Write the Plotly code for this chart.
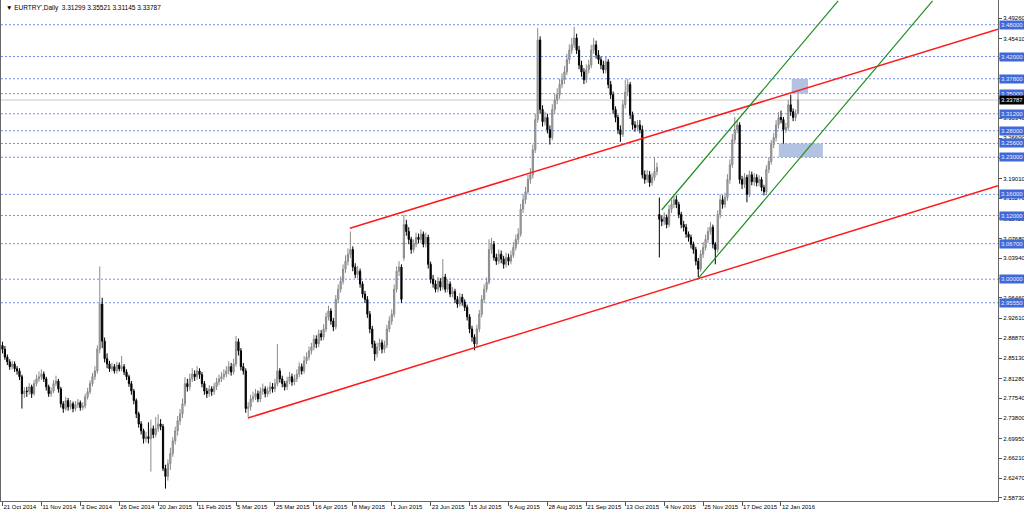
import plotly.graph_objects as go

# ---------------- data ----------------
chart_title = "EURTRY',Daily  3.31299 3.35521 3.31145 3.33787"

date_labels = ["21 Oct 2014", "11 Nov 2014", "3 Dec 2014", "26 Dec 2014", "20 Jan 2015",
               "11 Feb 2015", "5 Mar 2015", "25 Mar 2015", "16 Apr 2015", "8 May 2015",
               "1 Jun 2015", "23 Jun 2015", "15 Jul 2015", "6 Aug 2015", "28 Aug 2015",
               "21 Sep 2015", "13 Oct 2015", "4 Nov 2015", "25 Nov 2015", "17 Dec 2015",
               "12 Jan 2016"]
bars_per_label = 16

opens = [
    2.875, 2.868, 2.853, 2.844, 2.835, 2.840, 2.831, 2.827, 2.816, 2.784,
    2.789, 2.788, 2.797, 2.784, 2.803, 2.812, 2.816, 2.821, 2.812, 2.797,
    2.784, 2.789, 2.803, 2.808, 2.793, 2.765, 2.756, 2.771, 2.759, 2.765,
    2.756, 2.763, 2.767, 2.758, 2.761, 2.778, 2.788, 2.803, 2.816, 2.827,
    2.868, 2.953, 2.883, 2.850, 2.840, 2.831, 2.835, 2.827, 2.838, 2.831,
    2.835, 2.825, 2.816, 2.803, 2.789, 2.771, 2.746, 2.727, 2.714, 2.699,
    2.703, 2.699, 2.718, 2.707, 2.718, 2.727, 2.722, 2.643, 2.628, 2.652,
    2.671, 2.695, 2.714, 2.733, 2.746, 2.765, 2.803, 2.797, 2.812, 2.821,
    2.816, 2.827, 2.820, 2.803, 2.789, 2.784, 2.793, 2.788, 2.797, 2.806,
    2.812, 2.816, 2.821, 2.827, 2.835, 2.825, 2.840, 2.882, 2.865, 2.835,
    2.827, 2.756, 2.759, 2.774, 2.778, 2.784, 2.774, 2.788, 2.793, 2.784,
    2.789, 2.797, 2.793, 2.803, 2.827, 2.812, 2.803, 2.797, 2.808, 2.816,
    2.806, 2.812, 2.821, 2.835, 2.827, 2.846, 2.853, 2.865, 2.872, 2.887,
    2.878, 2.897, 2.891, 2.906, 2.929, 2.940, 2.921, 2.910, 2.962, 2.981,
    2.996, 3.019, 3.034, 3.047, 3.056, 3.023, 3.009, 3.015, 2.991, 2.972,
    2.962, 2.934, 2.906, 2.878, 2.859, 2.872, 2.880, 2.868, 2.876, 2.906,
    2.921, 2.934, 2.981, 3.015, 3.023, 3.040, 3.103, 3.090, 3.075, 3.056,
    3.066, 3.079, 3.075, 3.085, 3.066, 3.079, 3.028, 3.000, 2.991, 2.981,
    2.996, 2.985, 3.004, 2.981, 2.991, 2.972, 2.977, 2.962, 2.953, 2.966,
    2.957, 2.947, 2.929, 2.906, 2.891, 2.878, 2.906, 2.934, 2.962, 2.981,
    2.994, 3.056, 3.066, 3.041, 3.034, 3.047, 3.038, 3.028, 3.041, 3.034,
    3.045, 3.060, 3.075, 3.085, 3.132, 3.150, 3.165, 3.188, 3.197, 3.244,
    3.301, 3.451, 3.320, 3.297, 3.305, 3.282, 3.267, 3.320, 3.338, 3.348,
    3.367, 3.376, 3.391, 3.414, 3.432, 3.442, 3.455, 3.432, 3.404, 3.391,
    3.376, 3.395, 3.404, 3.432, 3.442, 3.423, 3.414, 3.404, 3.395, 3.410,
    3.367, 3.348, 3.320, 3.305, 3.282, 3.273, 3.329, 3.353, 3.367, 3.310,
    3.291, 3.286, 3.291, 3.282, 3.197, 3.188, 3.197, 3.182, 3.192, 3.203,
    3.122, 3.113, 3.109, 3.117, 3.103, 3.132, 3.141, 3.150, 3.141, 3.122,
    3.103, 3.098, 3.085, 3.079, 3.066, 3.056, 3.034, 3.019, 3.047, 3.060,
    3.075, 3.090, 3.098, 3.066, 3.056, 3.122, 3.150, 3.141, 3.154, 3.188,
    3.216, 3.263, 3.282, 3.291, 3.188, 3.179, 3.192, 3.160, 3.197, 3.184,
    3.192, 3.182, 3.188, 3.173, 3.165, 3.207, 3.222, 3.254, 3.267, 3.291,
    3.305, 3.301, 3.282, 3.286, 3.329, 3.316, 3.305, 3.31299,
]

highs = [
    2.882, 2.874, 2.858, 2.849, 2.846, 2.845, 2.836, 2.832, 2.820, 2.796,
    2.797, 2.804, 2.801, 2.810, 2.820, 2.826, 2.830, 2.826, 2.816, 2.801,
    2.796, 2.810, 2.818, 2.812, 2.797, 2.770, 2.778, 2.776, 2.772, 2.769,
    2.770, 2.774, 2.771, 2.768, 2.784, 2.795, 2.809, 2.823, 2.836, 2.875,
    3.024, 2.965, 2.890, 2.860, 2.846, 2.842, 2.840, 2.844, 2.843, 2.855,
    2.840, 2.830, 2.820, 2.808, 2.793, 2.775, 2.750, 2.732, 2.718, 2.712,
    2.730, 2.735, 2.724, 2.740, 2.745, 2.736, 2.727, 2.650, 2.660, 2.682,
    2.702, 2.722, 2.742, 2.755, 2.775, 2.815, 2.812, 2.822, 2.832, 2.828,
    2.836, 2.832, 2.825, 2.808, 2.795, 2.800, 2.798, 2.804, 2.814, 2.820,
    2.825, 2.830, 2.836, 2.845, 2.842, 2.850, 2.893, 2.888, 2.870, 2.842,
    2.832, 2.768, 2.782, 2.788, 2.793, 2.790, 2.796, 2.803, 2.798, 2.797,
    2.806, 2.804, 2.812, 2.878, 2.832, 2.818, 2.808, 2.816, 2.825, 2.822,
    2.820, 2.830, 2.843, 2.841, 2.855, 2.862, 2.873, 2.880, 2.895, 2.894,
    2.905, 2.904, 2.915, 2.937, 2.950, 2.945, 2.927, 2.970, 2.990, 3.005,
    3.028, 3.045, 3.058, 3.090, 3.062, 3.030, 3.025, 3.020, 2.996, 2.978,
    2.968, 2.940, 2.912, 2.884, 2.880, 2.888, 2.886, 2.884, 2.914, 2.930,
    2.943, 2.990, 3.024, 3.034, 3.028, 3.121, 3.112, 3.098, 3.080, 3.075,
    3.088, 3.086, 3.094, 3.090, 3.088, 3.084, 3.033, 3.008, 2.998, 3.004,
    3.002, 3.038, 3.010, 3.000, 2.996, 2.985, 2.982, 2.968, 2.974, 2.972,
    2.962, 2.952, 2.934, 2.912, 2.896, 2.914, 2.942, 2.970, 2.990, 3.003,
    3.075, 3.078, 3.072, 3.048, 3.056, 3.054, 3.044, 3.050, 3.048, 3.054,
    3.070, 3.084, 3.096, 3.142, 3.160, 3.174, 3.197, 3.210, 3.254, 3.312,
    3.474, 3.458, 3.328, 3.316, 3.312, 3.290, 3.330, 3.350, 3.360, 3.378,
    3.388, 3.402, 3.425, 3.443, 3.455, 3.476, 3.463, 3.440, 3.412, 3.398,
    3.405, 3.414, 3.442, 3.455, 3.450, 3.432, 3.420, 3.412, 3.420, 3.415,
    3.374, 3.354, 3.326, 3.310, 3.290, 3.338, 3.376, 3.378, 3.372, 3.316,
    3.298, 3.300, 3.300, 3.290, 3.205, 3.206, 3.204, 3.200, 3.229, 3.220,
    3.154, 3.120, 3.126, 3.122, 3.140, 3.150, 3.156, 3.158, 3.146, 3.127,
    3.110, 3.104, 3.090, 3.084, 3.071, 3.061, 3.040, 3.055, 3.070, 3.084,
    3.098, 3.108, 3.103, 3.070, 3.130, 3.160, 3.158, 3.163, 3.198, 3.226,
    3.274, 3.306, 3.300, 3.296, 3.195, 3.200, 3.197, 3.205, 3.203, 3.200,
    3.198, 3.196, 3.193, 3.178, 3.215, 3.230, 3.262, 3.276, 3.300, 3.315,
    3.318, 3.306, 3.295, 3.338, 3.348, 3.322, 3.320, 3.35521,
]

lows = [
    2.860, 2.848, 2.838, 2.829, 2.830, 2.825, 2.820, 2.810, 2.756, 2.776,
    2.778, 2.782, 2.776, 2.780, 2.798, 2.806, 2.810, 2.806, 2.790, 2.778,
    2.778, 2.785, 2.798, 2.786, 2.758, 2.748, 2.752, 2.752, 2.754, 2.749,
    2.751, 2.757, 2.752, 2.753, 2.756, 2.773, 2.783, 2.798, 2.810, 2.822,
    2.860, 2.870, 2.843, 2.832, 2.825, 2.826, 2.822, 2.822, 2.826, 2.826,
    2.819, 2.810, 2.797, 2.782, 2.764, 2.738, 2.720, 2.707, 2.690, 2.692,
    2.690, 2.637, 2.700, 2.702, 2.712, 2.715, 2.638, 2.605, 2.620, 2.640,
    2.665, 2.688, 2.705, 2.725, 2.738, 2.760, 2.788, 2.790, 2.806, 2.808,
    2.810, 2.812, 2.796, 2.782, 2.776, 2.778, 2.780, 2.782, 2.791, 2.800,
    2.806, 2.810, 2.815, 2.820, 2.818, 2.820, 2.835, 2.856, 2.828, 2.820,
    2.748, 2.740, 2.752, 2.768, 2.772, 2.768, 2.768, 2.782, 2.777, 2.778,
    2.783, 2.786, 2.787, 2.798, 2.805, 2.796, 2.790, 2.791, 2.802, 2.799,
    2.800, 2.806, 2.815, 2.820, 2.822, 2.840, 2.847, 2.858, 2.866, 2.870,
    2.872, 2.884, 2.885, 2.900, 2.922, 2.914, 2.902, 2.905, 2.955, 2.975,
    2.990, 3.012, 3.026, 3.040, 3.015, 3.002, 3.002, 2.984, 2.965, 2.955,
    2.927, 2.898, 2.870, 2.846, 2.852, 2.865, 2.860, 2.861, 2.870, 2.900,
    2.914, 2.928, 2.975, 3.006, 2.955, 3.035, 3.082, 3.066, 3.048, 3.050,
    3.060, 3.068, 3.068, 3.060, 3.060, 3.020, 2.992, 2.984, 2.975, 2.975,
    2.978, 2.980, 2.975, 2.975, 2.966, 2.966, 2.955, 2.946, 2.948, 2.950,
    2.940, 2.922, 2.898, 2.882, 2.866, 2.872, 2.900, 2.928, 2.955, 2.975,
    2.990, 3.048, 3.035, 3.027, 3.028, 3.030, 3.020, 3.022, 3.026, 3.028,
    3.040, 3.054, 3.068, 3.080, 3.125, 3.142, 3.160, 3.180, 3.190, 3.238,
    3.295, 3.312, 3.288, 3.290, 3.275, 3.254, 3.262, 3.312, 3.330, 3.340,
    3.360, 3.368, 3.385, 3.406, 3.425, 3.436, 3.425, 3.396, 3.382, 3.368,
    3.370, 3.388, 3.398, 3.425, 3.416, 3.406, 3.396, 3.388, 3.388, 3.360,
    3.340, 3.312, 3.296, 3.274, 3.259, 3.268, 3.322, 3.345, 3.302, 3.282,
    3.278, 3.280, 3.275, 3.190, 3.180, 3.182, 3.174, 3.176, 3.186, 3.196,
    3.041, 3.100, 3.102, 3.096, 3.098, 3.125, 3.134, 3.134, 3.115, 3.096,
    3.090, 3.078, 3.071, 3.058, 3.048, 3.026, 3.004, 3.014, 3.040, 3.054,
    3.068, 3.084, 3.058, 3.028, 3.050, 3.115, 3.133, 3.135, 3.148, 3.180,
    3.210, 3.256, 3.275, 3.180, 3.170, 3.172, 3.145, 3.155, 3.177, 3.176,
    3.175, 3.175, 3.166, 3.158, 3.160, 3.200, 3.216, 3.247, 3.260, 3.284,
    3.294, 3.254, 3.276, 3.280, 3.308, 3.298, 3.298, 3.31145,
]

closes = [
    2.868, 2.853, 2.844, 2.835, 2.840, 2.831, 2.827, 2.816, 2.784, 2.789,
    2.788, 2.797, 2.784, 2.803, 2.812, 2.816, 2.821, 2.812, 2.797, 2.784,
    2.789, 2.803, 2.808, 2.793, 2.765, 2.756, 2.771, 2.759, 2.765, 2.756,
    2.763, 2.767, 2.758, 2.761, 2.778, 2.788, 2.803, 2.816, 2.827, 2.868,
    2.953, 2.883, 2.850, 2.840, 2.831, 2.835, 2.827, 2.838, 2.831, 2.835,
    2.825, 2.816, 2.803, 2.789, 2.771, 2.746, 2.727, 2.714, 2.699, 2.703,
    2.699, 2.718, 2.707, 2.718, 2.727, 2.722, 2.643, 2.628, 2.652, 2.671,
    2.695, 2.714, 2.733, 2.746, 2.765, 2.803, 2.797, 2.812, 2.821, 2.816,
    2.827, 2.820, 2.803, 2.789, 2.784, 2.793, 2.788, 2.797, 2.806, 2.812,
    2.816, 2.821, 2.827, 2.835, 2.825, 2.840, 2.882, 2.865, 2.835, 2.827,
    2.756, 2.759, 2.774, 2.778, 2.784, 2.774, 2.788, 2.793, 2.784, 2.789,
    2.797, 2.793, 2.803, 2.827, 2.812, 2.803, 2.797, 2.808, 2.816, 2.806,
    2.812, 2.821, 2.835, 2.827, 2.846, 2.853, 2.865, 2.872, 2.887, 2.878,
    2.897, 2.891, 2.906, 2.929, 2.940, 2.921, 2.910, 2.962, 2.981, 2.996,
    3.019, 3.034, 3.047, 3.056, 3.023, 3.009, 3.015, 2.991, 2.972, 2.962,
    2.934, 2.906, 2.878, 2.859, 2.872, 2.880, 2.868, 2.876, 2.906, 2.921,
    2.934, 2.981, 3.015, 3.023, 2.962, 3.103, 3.090, 3.075, 3.056, 3.066,
    3.079, 3.075, 3.085, 3.066, 3.079, 3.028, 3.000, 2.991, 2.981, 2.996,
    2.985, 3.004, 2.981, 2.991, 2.972, 2.977, 2.962, 2.953, 2.966, 2.957,
    2.947, 2.929, 2.906, 2.891, 2.878, 2.906, 2.934, 2.962, 2.981, 2.994,
    3.056, 3.066, 3.041, 3.034, 3.047, 3.038, 3.028, 3.041, 3.034, 3.045,
    3.060, 3.075, 3.085, 3.132, 3.150, 3.165, 3.188, 3.197, 3.244, 3.301,
    3.451, 3.320, 3.297, 3.305, 3.282, 3.267, 3.320, 3.338, 3.348, 3.367,
    3.376, 3.391, 3.414, 3.432, 3.442, 3.455, 3.432, 3.404, 3.391, 3.376,
    3.395, 3.404, 3.432, 3.442, 3.423, 3.414, 3.404, 3.395, 3.410, 3.367,
    3.348, 3.320, 3.305, 3.282, 3.273, 3.329, 3.353, 3.367, 3.310, 3.291,
    3.286, 3.291, 3.282, 3.197, 3.188, 3.197, 3.182, 3.192, 3.203, 3.211,
    3.113, 3.109, 3.117, 3.103, 3.132, 3.141, 3.150, 3.141, 3.122, 3.103,
    3.098, 3.085, 3.079, 3.066, 3.056, 3.034, 3.019, 3.047, 3.060, 3.075,
    3.090, 3.098, 3.066, 3.056, 3.122, 3.150, 3.141, 3.154, 3.188, 3.216,
    3.263, 3.282, 3.291, 3.188, 3.179, 3.192, 3.160, 3.197, 3.184, 3.192,
    3.182, 3.188, 3.173, 3.165, 3.207, 3.222, 3.254, 3.267, 3.291, 3.305,
    3.301, 3.282, 3.286, 3.329, 3.316, 3.305, 3.312, 3.33787,
]

price_ticks = [3.49260, 3.45410, 3.41670, 3.37930, 3.34080, 3.30340, 3.26600, 3.22750,
               3.19010, 3.15270, 3.11420, 3.07680, 3.03940, 3.00200, 2.96460, 2.92610,
               2.88870, 2.85130, 2.81280, 2.77540, 2.73800, 2.69950, 2.66210, 2.62470,
               2.58730]

levels = [3.48000, 3.42000, 3.37800, 3.35000, 3.31200, 3.28000, 3.25600, 3.23000,
          3.16000, 3.12000, 3.06700, 3.00000, 2.95550]
bid_price = 3.33787

# zones: (bar_from, bar_to, price_low, price_high)
zones = [(324.4, 331.1, 3.350, 3.378), (319.1, 337.2, 3.230, 3.256)]
# trend lines: (bar0, price0, bar1, price1)
red_lines = [(100.9, 2.7382, 409.2, 3.1763), (142.8, 3.0960, 409.2, 3.4714)]
green_lines = [(270.95, 3.1305, 343.5, 3.5250), (286.0, 3.0017, 382.3, 3.5250)]

x_range = [-0.6, 409.2]
y_range = [2.5816, 3.5266]

# ---------------- figure ----------------
bars = list(range(len(closes)))

fig = go.Figure()
fig.add_trace(go.Candlestick(
    x=bars, open=opens, high=highs, low=lows, close=closes,
    increasing=dict(line=dict(color="#8a8a8a", width=1), fillcolor="#b0b0b0"),
    decreasing=dict(line=dict(color="#000000", width=1), fillcolor="#000000"),
    whiskerwidth=0, hoverinfo="skip", showlegend=False,
))

shapes = []
for lv in levels:
    shapes.append(dict(type="line", xref="paper", x0=0, x1=1, yref="y", y0=lv, y1=lv,
                       line=dict(color="#7090ea", width=1, dash="2px,2px"), layer="below"))
shapes.append(dict(type="line", xref="paper", x0=0, x1=1, yref="y", y0=bid_price, y1=bid_price,
                   line=dict(color="#c8c8c8", width=1), layer="below"))
for b0, b1, p0, p1 in zones:
    shapes.append(dict(type="rect", xref="x", yref="y", x0=b0, x1=b1, y0=p0, y1=p1,
                       fillcolor="#a9bddd", line=dict(width=0), opacity=0.9, layer="above"))
for b0, p0, b1, p1 in red_lines:
    shapes.append(dict(type="line", xref="x", yref="y", x0=b0, y0=p0, x1=b1, y1=p1,
                       line=dict(color="#ff1a1a", width=1.5)))
for b0, p0, b1, p1 in green_lines:
    shapes.append(dict(type="line", xref="x", yref="y", x0=b0, y0=p0, x1=b1, y1=p1,
                       line=dict(color="#1f8f1f", width=1.2)))

annotations = []
for lv in levels:
    annotations.append(dict(x=1, xref="paper", y=lv, yref="y", xanchor="left", yanchor="middle",
                            xshift=1, text=f"{lv:.5f}", showarrow=False,
                            font=dict(size=6, color="#e8eeff", family="Liberation Sans"),
                            bgcolor="#3f68d8", borderpad=1))
annotations.append(dict(x=1, xref="paper", y=bid_price, yref="y", xanchor="left", yanchor="middle",
                        xshift=1, text=f"{bid_price:.5f}", showarrow=False,
                        font=dict(size=6, color="#ffffff", family="Liberation Sans"),
                        bgcolor="#000000", borderpad=1))
annotations.append(dict(x=0, xref="paper", y=1, yref="paper", xanchor="left", yanchor="top",
                        xshift=3, yshift=-2, text="\u25BC " + chart_title, showarrow=False,
                        font=dict(size=6.5, color="#000000", family="Liberation Sans")))

tick_bars = [k * bars_per_label for k in range(len(date_labels))]

fig.update_layout(
    width=1024, height=515,
    margin=dict(l=1, r=26, t=0, b=14, autoexpand=False),
    paper_bgcolor="#ffffff", plot_bgcolor="#ffffff",
    shapes=shapes, annotations=annotations,
    showlegend=False,
    font=dict(family="Liberation Sans", size=6, color="#000000"),
    xaxis=dict(range=x_range, tickvals=tick_bars, ticktext=date_labels,
               ticklabelposition="outside right", tickangle=0, automargin=False,
               ticks="outside", ticklen=4,
               tickcolor="#555555", tickfont=dict(size=6), showgrid=False,
               zeroline=False, showline=True, linecolor="#666666", linewidth=1,
               rangeslider=dict(visible=False), fixedrange=True),
    yaxis=dict(side="right", range=y_range, tickvals=price_ticks, automargin=False,
               ticktext=[f"{t:.5f}" for t in price_ticks], ticks="outside", ticklen=3,
               tickcolor="#555555", tickfont=dict(size=6), showgrid=False,
               zeroline=False, showline=True, mirror=True, linecolor="#666666",
               linewidth=1, fixedrange=True),
)

fig.write_html(
    "out.html",
    config={"displayModeBar": False, "staticPlot": True},
    post_script="document.body.style.margin='0';document.body.style.padding='0';"
                "document.body.style.overflow='hidden';",
)
